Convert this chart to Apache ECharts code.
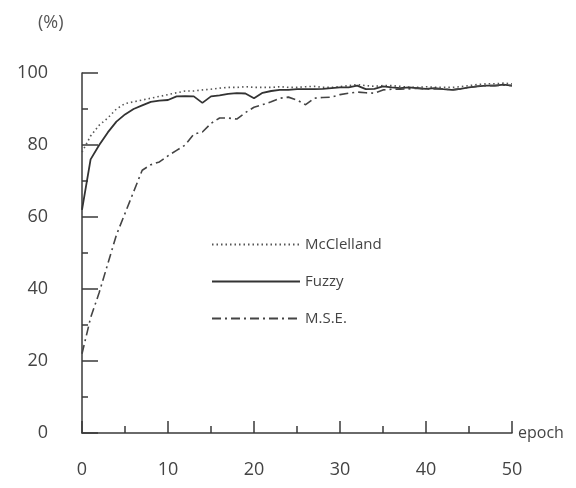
<!DOCTYPE html>
<html>
<head>
<meta charset="utf-8">
<script src="https://cdn.jsdelivr.net/npm/echarts@6/dist/echarts.min.js"></script>
<style>
  html, body { margin: 0; padding: 0; background: #fff; }
  #chart { width: 576px; height: 488px; }
</style>
</head>
<body>
<div id="chart"></div>
<script>
  // recognition rate (%) per training epoch
  var epochs = []
  for (var i = 0; i <= 50; i++) epochs.push(i)

  var mcclelland = [78, 82.5, 85.5, 87.5, 90, 91.5, 92, 92.5, 93, 93.5,
    94, 94.5, 95, 95, 95.3, 95.5, 95.8, 96, 96, 96.2,
    96, 96, 96, 96.2, 96, 96, 96.2, 96.3, 96, 96,
    96.2, 96.5, 96.8, 96.5, 96.3, 96.5, 96.5, 96.3, 96, 96,
    96.2, 96, 96, 96, 96.2, 96.5, 96.8, 97, 97, 97.2, 97]

  var fuzzy = [62, 76, 80, 83.5, 86.5, 88.5, 90, 91, 92, 92.3,
    92.5, 93.5, 93.6, 93.5, 91.7, 93.5, 93.8, 94.2, 94.4, 94.3,
    93, 94.5, 95, 95.3, 95.3, 95.5, 95.5, 95.5, 95.6, 95.8,
    96, 96, 96.5, 95.5, 95.6, 96.3, 96, 95.8, 96, 95.8,
    95.6, 95.8, 95.5, 95.3, 95.6, 96, 96.3, 96.5, 96.5, 96.8, 96.5]

  var mse = [22, 32, 39, 47, 55, 61, 67, 73, 74.5, 75.3,
    77, 78.5, 80, 83, 83.6, 86, 87.5, 87.5, 87.2, 89,
    90.5, 91.2, 92, 93, 93.3, 92.5, 91.2, 93, 93.2, 93.3,
    94, 94.4, 94.7, 94.5, 94.4, 95.3, 95.5, 95.5, 95.6, 95.8,
    95.5, 95.6, 95.6, 95.3, 95.6, 96, 96.3, 96.5, 96.5, 96.6, 96.5]

  var seriesNames = ['McClelland', 'Fuzzy', 'M.S.E.']

  function pairs(ys) {
    return ys.map(function (y, k) { return [epochs[k], y] })
  }

  var ink = '#3a3a3a'
  var font = 'Open Sans'

  var chart = echarts.init(document.getElementById('chart'))
  chart.setOption({
    animation: false,
    title: {
      text: '(%)',
      left: 33,
      top: 9,
      textStyle: { fontFamily: font, fontSize: 18, fontWeight: 'normal', color: '#555' }
    },
    legend: {
      orient: 'vertical',
      left: 206,
      top: 232,
      itemWidth: 88,
      itemHeight: 10,
      itemGap: 22,
      data: seriesNames,
      itemStyle: { opacity: 0 },
      textStyle: { fontFamily: font, fontSize: 15, color: '#444' }
    },
    grid: { left: 82, right: 64, top: 73, bottom: 55 },
    xAxis: {
      type: 'value',
      min: 0,
      max: 50,
      interval: 10,
      name: 'epoch',
      nameLocation: 'end',
      nameGap: 6,
      nameTextStyle: { fontFamily: font, fontSize: 16, color: '#444' },
      axisLine: { lineStyle: { color: ink, width: 1.5 } },
      axisTick: { inside: true, length: 12, lineStyle: { color: ink, width: 1.5 } },
      minorTick: { show: true, splitNumber: 2, length: 7, lineStyle: { color: ink, width: 1.5 } },
      axisLabel: { margin: 28, fontFamily: font, fontSize: 18, color: '#444' },
      splitLine: { show: false }
    },
    yAxis: {
      type: 'value',
      min: 0,
      max: 100,
      interval: 20,
      axisLine: { show: true, lineStyle: { color: ink, width: 1.5 } },
      axisTick: { show: true, inside: true, length: 16, lineStyle: { color: ink, width: 1.5 } },
      minorTick: { show: true, splitNumber: 2, length: 6, lineStyle: { color: ink, width: 1.5 } },
      axisLabel: { margin: 34, fontFamily: font, fontSize: 18, color: '#444' },
      splitLine: { show: false }
    },
    series: [
      {
        name: seriesNames[0],
        type: 'line',
        symbol: 'none',
        data: pairs(mcclelland),
        lineStyle: { color: '#555', width: 1.6, type: [1.5, 3] },
        itemStyle: { color: '#555' }
      },
      {
        name: seriesNames[1],
        type: 'line',
        symbol: 'none',
        data: pairs(fuzzy),
        lineStyle: { color: '#333', width: 1.8, type: 'solid' },
        itemStyle: { color: '#333' }
      },
      {
        name: seriesNames[2],
        type: 'line',
        symbol: 'none',
        data: pairs(mse),
        lineStyle: { color: '#444', width: 1.6, type: [9, 4, 2, 4] },
        itemStyle: { color: '#444' }
      }
    ]
  })
</script>
</body>
</html>
